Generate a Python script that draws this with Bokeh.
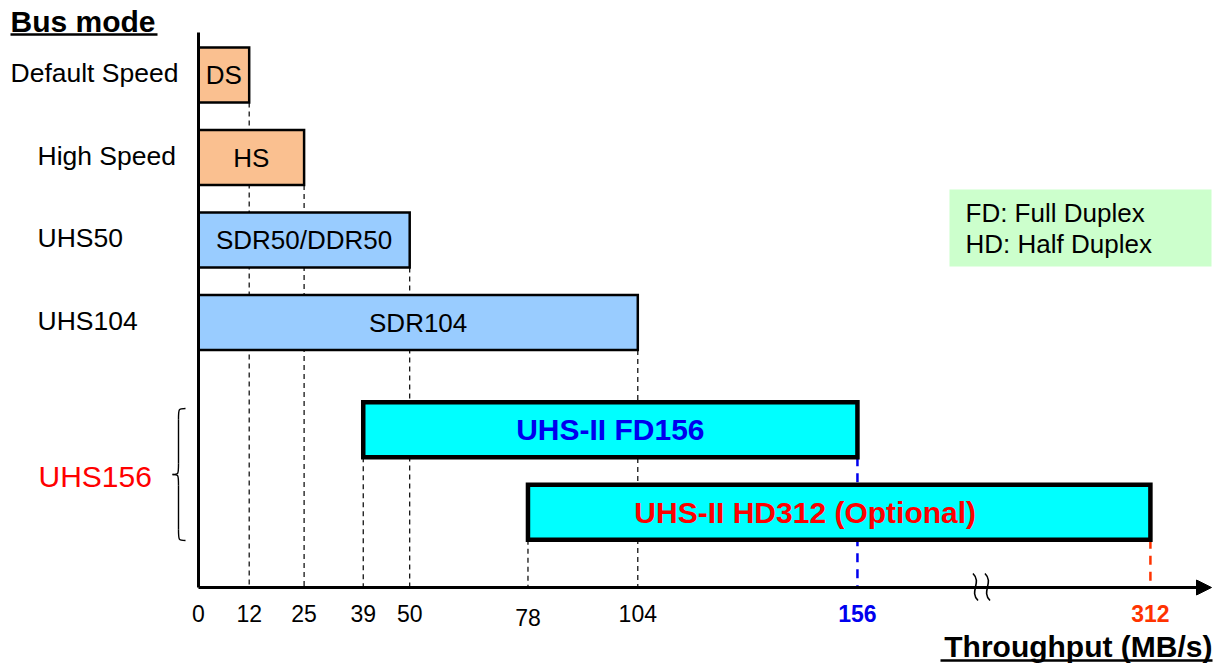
from bokeh.plotting import figure
from bokeh.models import Range1d, ColumnDataSource, Arrow, NormalHead
from bokeh.core.properties import value
from bokeh.embed import file_html
from bokeh.resources import INLINE

# ---------------- data ----------------
row_labels = ["Default Speed", "High Speed", "UHS50", "UHS104"]
group_label = "UHS156"
bar_names = ["DS", "HS", "SDR50/DDR50", "SDR104", "UHS-II FD156", "UHS-II HD312 (Optional)"]
bar_start = [0, 0, 0, 0, 39, 78]
bar_end = [12, 25, 50, 104, 156, 312]
tick_values = [0, 12, 25, 39, 50, 78, 104, 156, 312]
legend_lines = ["FD: Full Duplex", "HD: Half Duplex"]
x_title = "Throughput (MB/s)"
y_title = "Bus mode"

# ---------------- layout / style ----------------
W, H = 1220, 663
PX_PER_UNIT = 4.224          # horizontal pixels per MB/s
PX_PER_ROW = 82.5            # vertical pixels per row
ORIGIN_PX = 198              # pixel of 0 MB/s
ROW0_PX = 74.5               # pixel of first row centre
X_START = -ORIGIN_PX / PX_PER_UNIT
X_END = X_START + W / PX_PER_UNIT
Y_TOP = -ROW0_PX / PX_PER_ROW
Y_BOT = Y_TOP + H / PX_PER_ROW
BREAK_AT = 156
BREAK_FACTOR = 0.4446
ROW_GAP = 0.3
BAR_HALF = 0.333
FONT = "Liberation Sans"

PEACH = "#FAC090"
LIGHTBLUE = "#99CCFF"
CYAN = "#00FFFF"
GREEN = "#CCFFCC"
BLUE = "#0000EE"
RED = "#FF0000"
ORANGE_RED = "#FF3300"


def disp(v):
    """axis with a break after 156"""
    return v if v <= BREAK_AT else BREAK_AT + (v - BREAK_AT) * BREAK_FACTOR


def px_x(px):
    return X_START + px / PX_PER_UNIT


def px_y(py):
    return Y_TOP + py / PX_PER_ROW


n_legacy = len(row_labels)
row_pos = [i if i < n_legacy else i + ROW_GAP for i in range(len(bar_names))]
AXIS_Y = px_y(587)
YAXIS_TOP = px_y(32)

p = figure(width=W, height=H, x_range=Range1d(X_START, X_END),
           y_range=Range1d(Y_BOT, Y_TOP), output_backend="svg",
           toolbar_location=None, min_border=0,
           x_axis_location=None, y_axis_location=None)
p.grid.visible = False
p.outline_line_color = None
p.background_fill_color = "white"

# ---------------- dashed guide lines (behind bars) ----------------
for i, (s, e) in enumerate(zip(bar_start, bar_end)):
    bottom = row_pos[i] + BAR_HALF
    ends = [e] + ([s] if s > 0 else [])
    for v in ends:
        if v == 156 and v == e:
            c, w, d = BLUE, 2.5, "9 7"
        elif v == 312:
            c, w, d = ORANGE_RED, 2.5, "9 7"
        else:
            c, w, d = "black", 1.2, "5 4"
        p.segment(x0=[disp(v)], y0=[bottom], x1=[disp(v)], y1=[AXIS_Y],
                  line_color=c, line_width=w, line_dash=d)

# ---------------- bars ----------------
fills = [PEACH, PEACH, LIGHTBLUE, LIGHTBLUE, CYAN, CYAN]
widths = [2.5 if i < n_legacy else 4.5 for i in range(len(bar_names))]
bars = ColumnDataSource(dict(
    left=[disp(v) for v in bar_start],
    right=[disp(v) for v in bar_end],
    top=[r - BAR_HALF for r in row_pos],
    bottom=[r + BAR_HALF for r in row_pos],
    fill=fills, lw=widths,
))
p.quad(left="left", right="right", top="top", bottom="bottom", source=bars,
       fill_color="fill", line_color="black", line_width="lw", line_join="miter")

# bar texts
for i, name in enumerate(bar_names):
    cx = (disp(bar_start[i]) + disp(bar_end[i])) / 2
    if i < n_legacy:
        p.text(x=[cx], y=[row_pos[i]], text=[name], text_align="center",
               text_baseline="middle", text_font=value(FONT),
               text_font_size=value("26px"), text_color="black")
    else:
        col = BLUE if i == n_legacy else RED
        off = 0 if i == n_legacy else -34
        p.text(x=[cx], y=[row_pos[i]], text=[name], text_align="center",
               text_baseline="middle", text_font=value(FONT),
               text_font_size=value("30px"), text_font_style="bold",
               text_color=col, x_offset=off)

# ---------------- axes ----------------
p.segment(x0=[0], y0=[AXIS_Y], x1=[0], y1=[YAXIS_TOP], line_color="black", line_width=3)
p.add_layout(Arrow(x_start=0, y_start=AXIS_Y, x_end=px_x(1211), y_end=AXIS_Y,
                   line_color="black", line_width=3,
                   end=NormalHead(size=15, fill_color="black", line_color="black")))

# axis break mark
bx = [px_x(975), px_x(987)]
bt, bb = px_y(573), px_y(600)
dh = (bb - bt) / 3
for x in bx:
    p.bezier(x0=[x - 0.6], y0=[bt], x1=[x + 0.6], y1=[bb],
             cx0=[x + 1.6], cy0=[bt + dh], cx1=[x - 1.6], cy1=[bb - dh],
             line_color="black", line_width=1.6)

# tick labels
TICK_Y = px_y(613)
for t in tick_values:
    if t == 156:
        col, style = BLUE, "bold"
    elif t == 312:
        col, style = ORANGE_RED, "bold"
    else:
        col, style = "black", "normal"
    yoff = 4 if t == 78 else 0
    p.text(x=[disp(t)], y=[TICK_Y], text=[str(t)], text_align="center",
           text_baseline="middle", text_font=value(FONT),
           text_font_size=value("23px"), text_font_style=style,
           text_color=col, y_offset=yoff)

# ---------------- row labels ----------------
for i, lab in enumerate(row_labels):
    lx = px_x(10) if i == 0 else px_x(37)
    p.text(x=[lx], y=[row_pos[i]], text=[lab], text_align="left",
           text_baseline="middle", text_font=value(FONT),
           text_font_size=value("26.5px"), text_color="black", y_offset=-2)

grp_mid = (row_pos[n_legacy] + row_pos[-1]) / 2
p.text(x=[px_x(38)], y=[grp_mid], text=[group_label], text_align="left",
       text_baseline="middle", text_font=value(FONT),
       text_font_size=value("30px"), text_color=RED, y_offset=5)

# brace
xr, xm, xl = px_x(185), px_x(178), px_x(172)
yt, yb = px_y(408), px_y(540)
yc = (yt + yb) / 2
k = 0.13
p.bezier(x0=[xr, xr], y0=[yt, yb], x1=[xm, xm], y1=[yt + k, yb - k],
         cx0=[xm, xm], cy0=[yt, yb], cx1=[xm, xm], cy1=[yt, yb],
         line_color="black", line_width=1.4)
p.segment(x0=[xm, xm], y0=[yt + k, yb - k], x1=[xm, xm], y1=[yc - k, yc + k],
          line_color="black", line_width=1.4)
p.bezier(x0=[xm, xm], y0=[yc - k, yc + k], x1=[xl, xl], y1=[yc, yc],
         cx0=[xm, xm], cy0=[yc, yc], cx1=[xm, xm], cy1=[yc, yc],
         line_color="black", line_width=1.4)

# ---------------- titles ----------------
p.text(x=[px_x(10)], y=[px_y(21)], text=[y_title], text_align="left",
       text_baseline="middle", text_font=value(FONT),
       text_font_size=value("30px"), text_font_style="bold", text_color="black")
p.segment(x0=[px_x(10)], y0=[px_y(34)], x1=[px_x(157)], y1=[px_y(34)],
          line_color="black", line_width=2.5)

p.text(x=[px_x(1212)], y=[px_y(646)], text=[x_title], text_align="right",
       text_baseline="middle", text_font=value(FONT),
       text_font_size=value("30px"), text_font_style="bold", text_color="black")
p.segment(x0=[px_x(940)], y0=[px_y(660)], x1=[px_x(1212)], y1=[px_y(660)],
          line_color="black", line_width=2.5)

# ---------------- legend box ----------------
p.quad(left=[px_x(949)], right=[px_x(1211)], top=[px_y(189)], bottom=[px_y(266)],
       fill_color=GREEN, line_color=None)
for j, line in enumerate(legend_lines):
    p.text(x=[px_x(965)], y=[px_y(212 + 31 * j)], text=[line], text_align="left",
           text_baseline="middle", text_font=value(FONT),
           text_font_size=value("26px"), text_color="black")

open("out.html", "w").write(file_html(p, INLINE))
